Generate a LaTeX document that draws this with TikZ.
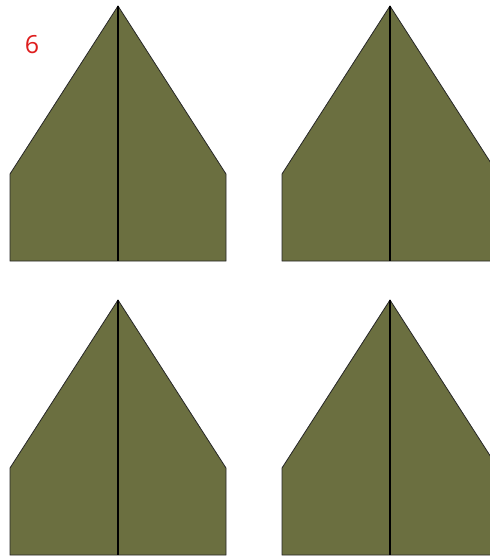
\documentclass[tikz,border=0pt]{standalone}
\usepackage{fontspec}
\setsansfont{Open Sans}
\usepackage{tikz}
\definecolor{olive}{RGB}{107,111,64}
\definecolor{numred}{RGB}{222,30,30}

\begin{document}
\begin{tikzpicture}[x=1pt, y=-1pt]
    % Canvas
    \useasboundingbox (0,0) rectangle (490,557);
    \clip (0,0) rectangle (490,557);

    % Kites (apex x, apex y)
    \foreach \cx/\ty in {118/6, 390/6, 118/300, 390/300} {
        \draw[fill=olive, draw=black!85, line width=0.8pt]
            (\cx,\ty) -- (\cx+108,\ty+168) -- (\cx+108,\ty+255)
            -- (\cx-108,\ty+255) -- (\cx-108,\ty+168) -- cycle;
        \draw[line width=2.6pt, black] (\cx,\ty) -- (\cx,\ty+255);
    }

    % Label
    \node[numred, font=\sffamily\fontsize{25}{25}\selectfont] (num) at (32,45) {6};
\end{tikzpicture}
\end{document}
